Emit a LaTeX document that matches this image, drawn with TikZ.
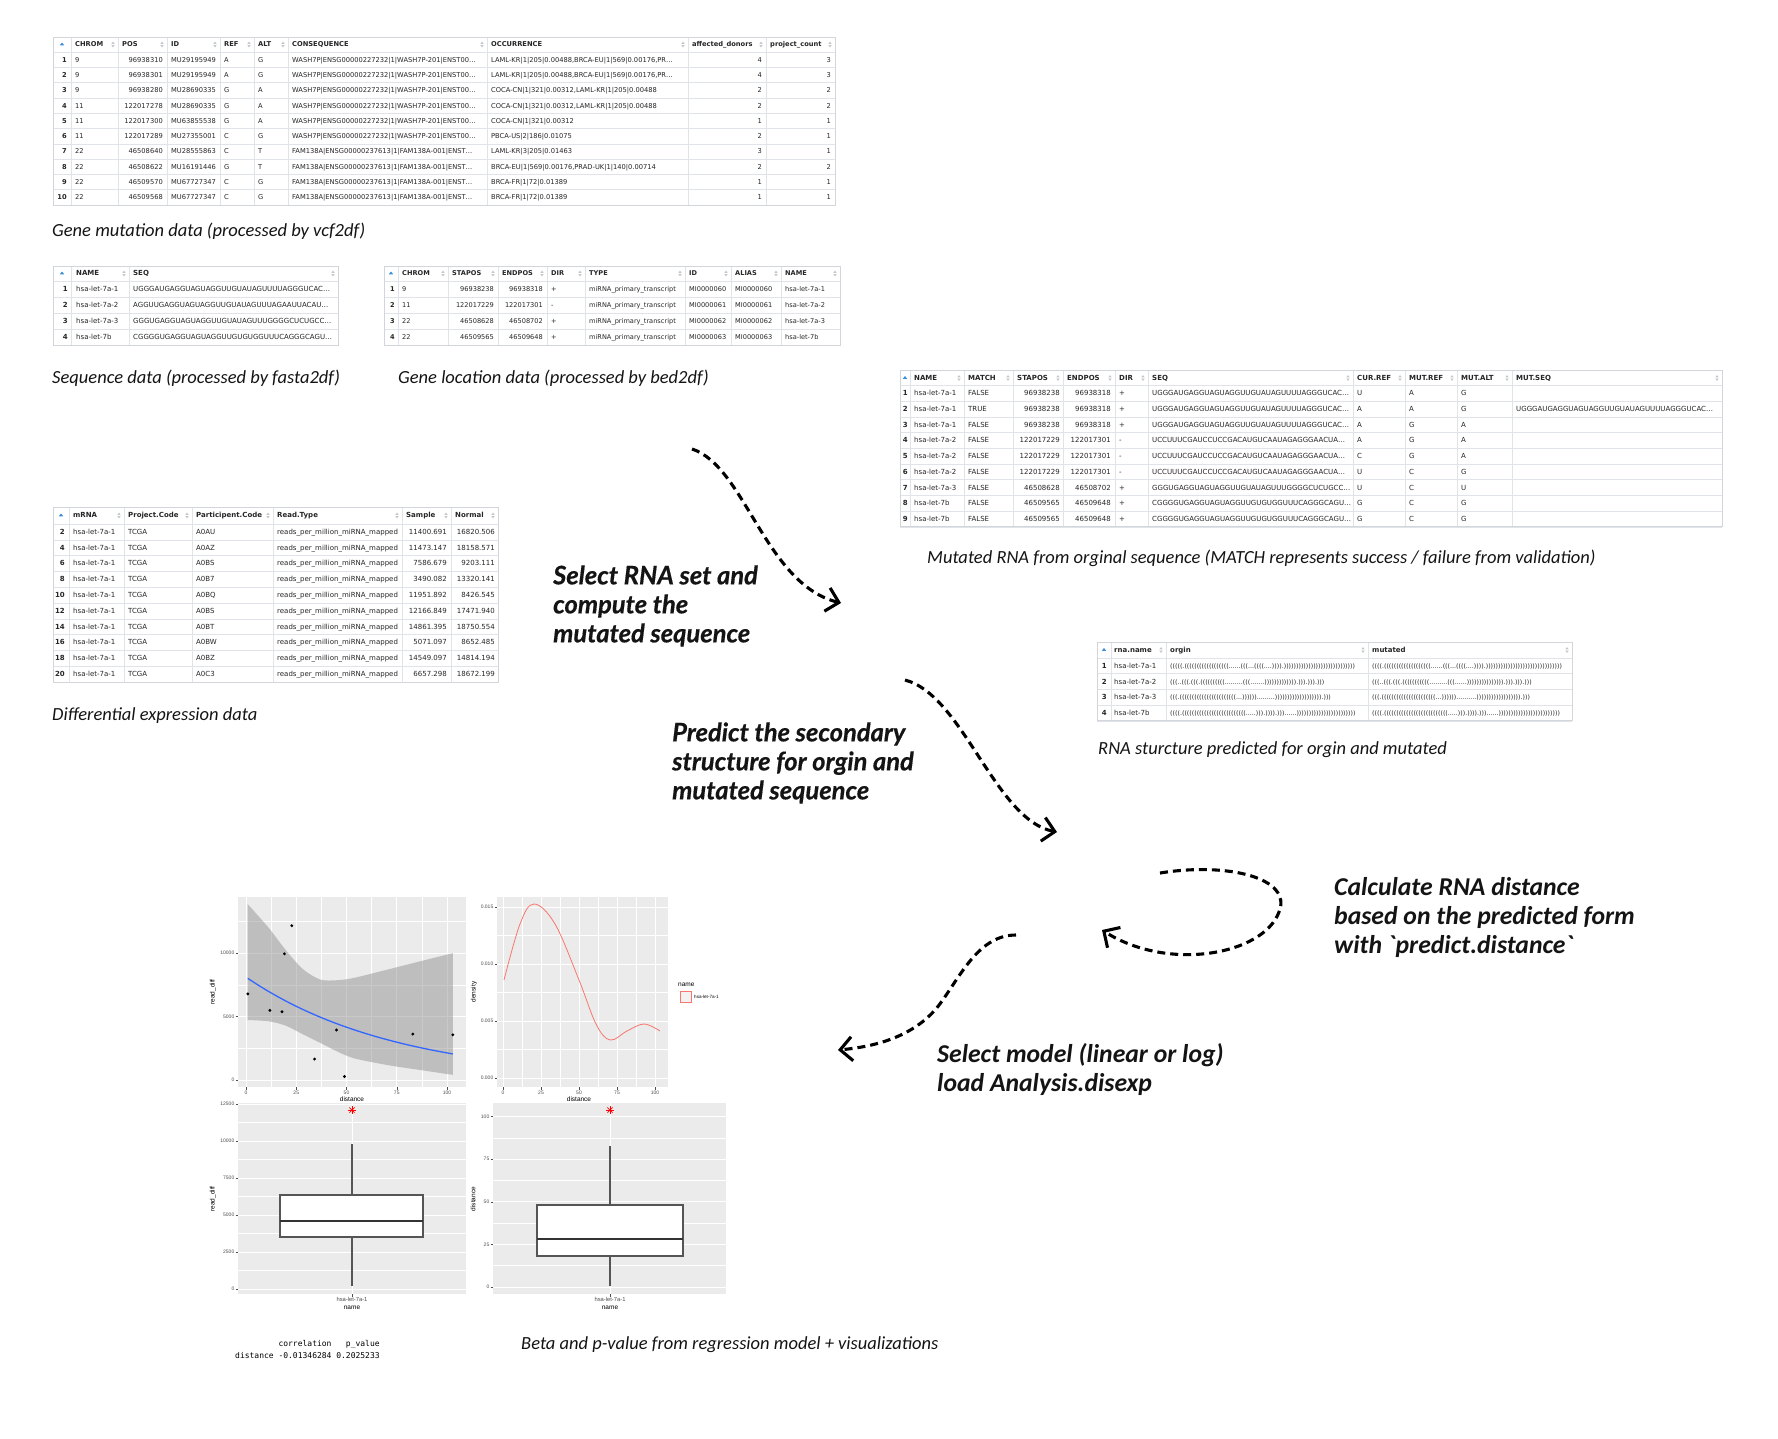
\documentclass[tikz,border=0pt]{standalone}
\usepackage{fontspec}
\setmainfont{Carlito}
\newfontfamily\tabfont{DejaVu Sans}
\newfontfamily\stepfont{Lato}[BoldItalicFeatures={FakeBold=0.5}]
\newfontfamily\calcfont{Carlito}
\newfontfamily\plotfont{Liberation Sans}
\newfontfamily\corrfont{DejaVu Sans Mono}
\usetikzlibrary{arrows.meta}
\definecolor{tabgrid}{HTML}{E0E3E7}
\definecolor{tabedge}{HTML}{D2D6DA}
\definecolor{tabtxt}{HTML}{262626}
\definecolor{sortgrey}{HTML}{C2C6CB}
\definecolor{sortblue}{HTML}{3D8FDB}
\definecolor{captxt}{HTML}{141414}
\definecolor{panelbg}{HTML}{EBEBEB}
\definecolor{ggred}{HTML}{F8766D}
\definecolor{ggblue}{HTML}{3366FF}
\definecolor{ticktxt}{HTML}{4D4D4D}
\definecolor{boxgrey}{HTML}{555555}
\def\tabsize{\fontsize{7}{8}\selectfont}
\newcommand\myWc{WASH7P|ENSG00000227232|1|WASH7P-201|ENST00…}
\newcommand\myFc{FAM138A|ENSG00000237613|1|FAM138A-001|ENST…}
\newcommand\seqA{UGGGAUGAGGUAGUAGGUUGUAUAGUUUUAGGGUCAC…}
\newcommand\seqB{UCCUUUCGAUCCUCCGACAUGUCAAUAGAGGGAACUA…}
\newcommand\seqC{GGGUGAGGUAGUAGGUUGUAUAGUUUGGGGCUCUGCC…}
\newcommand\seqD{CGGGGUGAGGUAGUAGGUUGUGUGGUUUCAGGGCAGU…}
\newcommand\seqE{AGGUUGAGGUAGUAGGUUGUAUAGUUUAGAAUUACAU…}
\tikzset{
  cell/.style={inner sep=0pt, font=\tabfont\tabsize, text=tabtxt},
  rcell/.style={inner sep=0pt, font=\tabfont\bfseries\tabsize, text=tabtxt},
  hcell/.style={inner sep=0pt, font=\tabfont\bfseries\tabsize, text=tabtxt},
  strc/.style={inner sep=0pt, font=\tabfont\fontsize{6.3}{7}\selectfont, text=tabtxt},
  tabline/.style={draw=tabgrid, line width=0.6pt},
  tabframe/.style={draw=tabedge, line width=0.8pt},
  caption/.style={inner sep=0pt, anchor=west, font=\calcfont\itshape\fontsize{18.5}{22}\selectfont, text=captxt},
  steptext/.style={inner sep=0pt, anchor=west, align=left, font=\stepfont\bfseries\itshape\fontsize{25.5}{29}\selectfont, text=captxt},
  calctext/.style={inner sep=0pt, anchor=west, align=left, font=\calcfont\bfseries\itshape\fontsize{25.7}{29}\selectfont, text=captxt},
  flow/.style={line width=3.1pt, dash pattern=on 8pt off 5pt, -{Straight Barb[length=12pt,width=24pt]}},
  majg/.style={draw=white, line width=0.9pt},
  ming/.style={draw=white, line width=0.45pt},
  tickm/.style={draw=ticktxt, line width=0.5pt},
  ticklab/.style={inner sep=0pt, font=\plotfont\fontsize{5}{6}\selectfont, text=ticktxt},
  cattick/.style={inner sep=0pt, font=\plotfont\fontsize{5.8}{6}\selectfont, text=ticktxt},
  axtitle/.style={inner sep=0pt, font=\plotfont\fontsize{6.5}{7}\selectfont, text=black},
  legtxt/.style={inner sep=0pt, font=\plotfont\fontsize{4.6}{5}\selectfont, text=black},
  boxline/.style={draw=boxgrey, line width=1.1pt},
  medline/.style={draw=black!80, line width=1.6pt},
  corr/.style={inner sep=0pt, anchor=west, align=left, font=\corrfont\fontsize{8}{12}\selectfont, text=black},
}
% table grid: left, right, inner columns, top, header bottom, row height, rows
\newcommand\tgrid[7]{%
  \pgfmathsetmacro\tbot{#5+#6*#7}%
  \fill[white] (#1,#4) rectangle (#2,\tbot);
  \foreach \rowi in {0,...,#7}{\draw[tabline] (#1,{#5+\rowi*#6}) -- (#2,{#5+\rowi*#6});}
  \foreach \colx in {#3}{\draw[tabline] (\colx,#4) -- (\colx,\tbot);}
  \draw[tabframe] (#1,#4) rectangle (#2,\tbot);
}
\newcommand\sorticons[3]{%
  \foreach \colx in {#1}{%
    \fill[sortgrey] (\colx-6.6,#2-0.7) -- (\colx-5,#2-2.9) -- (\colx-3.4,#2-0.7) -- cycle;
    \fill[sortgrey] (\colx-6.6,#2+0.7) -- (\colx-5,#2+2.9) -- (\colx-3.4,#2+0.7) -- cycle;
  }%
  \fill[sortblue] (#3-2.2,#2+0.8) -- (#3,#2-2.0) -- (#3+2.2,#2+0.8) -- cycle;
}
\newcommand\hrow[3]{%
  \foreach \v [count=\i from 0] in {#3}{%
    \pgfmathsetmacro\xx{#1[\i]}%
    \node[hcell,anchor=base west] at (\xx,#2+2.4) {\v};
  }}
\newcommand\trow[4]{%
  \foreach \v [count=\i from 0] in {#4}{%
    \pgfmathsetmacro\xx{#1[\i]}%
    \pgfmathtruncatemacro\alg{#2[\i]}%
    \ifnum\i=0 \tikzset{cur/.style={rcell}}\else\tikzset{cur/.style={cell}}\fi
    \ifnum\alg=1
      \node[cur,anchor=base east] at (\xx,#3+2.4) {\v};
    \else
      \node[cur,anchor=base west] at (\xx,#3+2.4) {\v};
    \fi
  }}
\newcommand\astk[2]{%
  \begin{scope}[shift={(#1,#2)}]
    \foreach \ang in {0,45,90,135}{\draw[red, line width=0.7pt] (\ang:3.6pt) -- (\ang+180:3.6pt);}
  \end{scope}}
\begin{document}
\begin{tikzpicture}[x=1pt,y=-1pt]
\useasboundingbox (0,0) rectangle (1778,1438);
\fill[white] (0,0) rectangle (1778,1438);

% ---------------- Table 1: gene mutation
\def\tabsize{\fontsize{6.7}{8}\selectfont}
\tgrid{53}{835}{71,118,167,220,254,288,487,688,766}{37}{52}{15.3}{10}
\sorticons{118,167,220,254,288,487,688,766,835}{44.5}{62}
\hrow{{75,122,171,224,258,292,491,692,770}}{44.5}{CHROM,POS,ID,REF,ALT,CONSEQUENCE,OCCURRENCE,affected\_donors,project\_count}
\def\Ax{{67,75,163,171,224,258,292,491,762,831}}
\def\Aa{{1,0,1,0,0,0,0,0,1,1}}
\trow{\Ax}{\Aa}{59.7}{1,9,96938310,MU29195949,A,G,\myWc,{LAML-KR|1|205|0.00488,BRCA-EU|1|569|0.00176,PR…},4,3}
\trow{\Ax}{\Aa}{75.0}{2,9,96938301,MU29195949,A,G,\myWc,{LAML-KR|1|205|0.00488,BRCA-EU|1|569|0.00176,PR…},4,3}
\trow{\Ax}{\Aa}{90.3}{3,9,96938280,MU28690335,G,A,\myWc,{COCA-CN|1|321|0.00312,LAML-KR|1|205|0.00488},2,2}
\trow{\Ax}{\Aa}{105.6}{4,11,122017278,MU28690335,G,A,\myWc,{COCA-CN|1|321|0.00312,LAML-KR|1|205|0.00488},2,2}
\trow{\Ax}{\Aa}{120.9}{5,11,122017300,MU63855538,G,A,\myWc,COCA-CN|1|321|0.00312,1,1}
\trow{\Ax}{\Aa}{136.2}{6,11,122017289,MU27355001,C,G,\myWc,PBCA-US|2|186|0.01075,2,1}
\trow{\Ax}{\Aa}{151.5}{7,22,46508640,MU28555863,C,T,\myFc,LAML-KR|3|205|0.01463,3,1}
\trow{\Ax}{\Aa}{166.8}{8,22,46508622,MU16191446,G,T,\myFc,{BRCA-EU|1|569|0.00176,PRAD-UK|1|140|0.00714},2,2}
\trow{\Ax}{\Aa}{182.1}{9,22,46509570,MU67727347,C,G,\myFc,BRCA-FR|1|72|0.01389,1,1}
\trow{\Ax}{\Aa}{197.4}{10,22,46509568,MU67727347,C,G,\myFc,BRCA-FR|1|72|0.01389,1,1}
\node[caption] (cap1) at (52,231) {Gene mutation data (processed by vcf2df)};

% ---------------- Table 2: sequences
\def\tabsize{\fontsize{7}{8}\selectfont}
\tgrid{53}{338}{71,129}{266}{281}{16}{4}
\sorticons{129,338}{273.5}{62}
\hrow{{76,133}}{273.5}{NAME,SEQ}
\def\Bx{{68,76,133}}\def\Ba{{1,0,0}}
\trow{\Bx}{\Ba}{289}{1,hsa-let-7a-1,\seqA}
\trow{\Bx}{\Ba}{305}{2,hsa-let-7a-2,\seqE}
\trow{\Bx}{\Ba}{321}{3,hsa-let-7a-3,\seqC}
\trow{\Bx}{\Ba}{337}{4,hsa-let-7b,\seqD}
\node[caption] (cap2) at (52,378) {Sequence data (processed by fasta2df)};

% ---------------- Table 3: locations
\def\tabsize{\fontsize{6.6}{8}\selectfont}
\tgrid{384}{840}{398,448,498,547,585,685,731,781}{266}{281}{16}{4}
\sorticons{448,498,547,585,685,731,781,840}{273.5}{391}
\hrow{{402,452,502,551,589,689,735,785}}{273.5}{CHROM,STAPOS,ENDPOS,DIR,TYPE,ID,ALIAS,NAME}
\def\Cx{{395,402,494,543,551,589,689,735,785}}\def\Ca{{1,0,1,1,0,0,0,0,0}}
\trow{\Cx}{\Ca}{289}{1,9,96938238,96938318,+,miRNA\_primary\_transcript,MI0000060,MI0000060,hsa-let-7a-1}
\trow{\Cx}{\Ca}{305}{2,11,122017229,122017301,-,miRNA\_primary\_transcript,MI0000061,MI0000061,hsa-let-7a-2}
\trow{\Cx}{\Ca}{321}{3,22,46508628,46508702,+,miRNA\_primary\_transcript,MI0000062,MI0000062,hsa-let-7a-3}
\trow{\Cx}{\Ca}{337}{4,22,46509565,46509648,+,miRNA\_primary\_transcript,MI0000063,MI0000063,hsa-let-7b}
\node[caption] (cap3) at (398,378) {Gene location data (processed by bed2df)};

% ---------------- Table 4: mutated RNA
\def\tabsize{\fontsize{7}{8}\selectfont}
\tgrid{900}{1722}{910,964,1013,1063,1115,1148,1353,1405,1457,1512}{370}{385.5}{15.7}{9}
\sorticons{964,1013,1063,1115,1148,1353,1405,1457,1512,1722}{378}{905}
\hrow{{914,968,1017,1067,1119,1152,1357,1409,1461,1516}}{378}{NAME,MATCH,STAPOS,ENDPOS,DIR,SEQ,CUR.REF,MUT.REF,MUT.ALT,MUT.SEQ}
\def\Dx{{908,914,968,1060,1111,1119,1152,1357,1409,1461,1516}}\def\Da{{1,0,0,1,1,0,0,0,0,0,0}}
\trow{\Dx}{\Da}{393.4}{1,hsa-let-7a-1,FALSE,96938238,96938318,+,\seqA,U,A,G}
\trow{\Dx}{\Da}{409.1}{2,hsa-let-7a-1,TRUE,96938238,96938318,+,\seqA,A,A,G,\seqA}
\trow{\Dx}{\Da}{424.8}{3,hsa-let-7a-1,FALSE,96938238,96938318,+,\seqA,A,G,A}
\trow{\Dx}{\Da}{440.5}{4,hsa-let-7a-2,FALSE,122017229,122017301,-,\seqB,A,G,A}
\trow{\Dx}{\Da}{456.2}{5,hsa-let-7a-2,FALSE,122017229,122017301,-,\seqB,C,G,A}
\trow{\Dx}{\Da}{471.9}{6,hsa-let-7a-2,FALSE,122017229,122017301,-,\seqB,U,C,G}
\trow{\Dx}{\Da}{487.6}{7,hsa-let-7a-3,FALSE,46508628,46508702,+,\seqC,U,C,U}
\trow{\Dx}{\Da}{503.3}{8,hsa-let-7b,FALSE,46509565,46509648,+,\seqD,G,C,G}
\trow{\Dx}{\Da}{519.0}{9,hsa-let-7b,FALSE,46509565,46509648,+,\seqD,G,C,G}
\node[caption] (cap5) at (927,558) {Mutated RNA from orginal sequence (MATCH represents success / failure from validation)};

% ---------------- Table 5: differential expression
\def\tabsize{\fontsize{7}{8}\selectfont}
\tgrid{53}{498}{69,124,192,273,402,451}{507}{524}{15.8}{10}
\sorticons{124,192,273,402,451,498}{515.5}{61}
\hrow{{73,128,196,277,406,455}}{515.5}{mRNA,Project.Code,Participent.Code,Read.Type,Sample,Normal}
\def\Ex{{65,73,128,196,277,447,495}}\def\Ea{{1,0,0,0,0,1,1}}
\trow{\Ex}{\Ea}{531.9}{2,hsa-let-7a-1,TCGA,A0AU,reads\_per\_million\_miRNA\_mapped,11400.691,16820.506}
\trow{\Ex}{\Ea}{547.7}{4,hsa-let-7a-1,TCGA,A0AZ,reads\_per\_million\_miRNA\_mapped,11473.147,18158.571}
\trow{\Ex}{\Ea}{563.5}{6,hsa-let-7a-1,TCGA,A0BS,reads\_per\_million\_miRNA\_mapped,7586.679,9203.111}
\trow{\Ex}{\Ea}{579.3}{8,hsa-let-7a-1,TCGA,A0B7,reads\_per\_million\_miRNA\_mapped,3490.082,13320.141}
\trow{\Ex}{\Ea}{595.1}{10,hsa-let-7a-1,TCGA,A0BQ,reads\_per\_million\_miRNA\_mapped,11951.892,8426.545}
\trow{\Ex}{\Ea}{610.9}{12,hsa-let-7a-1,TCGA,A0BS,reads\_per\_million\_miRNA\_mapped,12166.849,17471.940}
\trow{\Ex}{\Ea}{626.7}{14,hsa-let-7a-1,TCGA,A0BT,reads\_per\_million\_miRNA\_mapped,14861.395,18750.554}
\trow{\Ex}{\Ea}{642.5}{16,hsa-let-7a-1,TCGA,A0BW,reads\_per\_million\_miRNA\_mapped,5071.097,8652.485}
\trow{\Ex}{\Ea}{658.3}{18,hsa-let-7a-1,TCGA,A0BZ,reads\_per\_million\_miRNA\_mapped,14549.097,14814.194}
\trow{\Ex}{\Ea}{674.1}{20,hsa-let-7a-1,TCGA,A0C3,reads\_per\_million\_miRNA\_mapped,6657.298,18672.199}
\node[caption] (cap4) at (52,716) {Differential expression data};

% ---------------- Table 6: structures
\def\tabsize{\fontsize{7}{8}\selectfont}
\tgrid{1097}{1572}{1111,1166,1368}{642}{658}{15.7}{4}
\sorticons{1166,1368,1572}{650}{1104}
\hrow{{1114,1170,1372}}{650}{rna.name,orgin,mutated}
\node[rcell,anchor=base east] (s1n) at (1107,668.3) {1};
\node[cell,anchor=base west] (s1a) at (1114,668.3) {hsa-let-7a-1};
\node[strc,anchor=base west] (s1o) at (1170,668.3) {(((((.((((((((((((((((((......(((...((((....)))).)))))))))))))))))))))))))))))};
\node[strc,anchor=base west] (s1m) at (1372,668.3) {((((.(((((((((((((((((((......(((...((((....)))).)))))))))))))))))))))))))))))))};
\node[rcell,anchor=base east] (s2n) at (1107,684) {2};
\node[cell,anchor=base west] (s2a) at (1114,684) {hsa-let-7a-2};
\node[strc,anchor=base west] (s2o) at (1170,684) {(((..(((.(((.((((((((((.........(((.......))))))))))))).))).))).)))};
\node[strc,anchor=base west] (s2m) at (1372,684) {(((..(((.(((.(((((((((((.........(((......))))))))))))))).))).))).)))};
\node[rcell,anchor=base east] (s3n) at (1107,699.7) {3};
\node[cell,anchor=base west] (s3a) at (1114,699.7) {hsa-let-7a-3};
\node[strc,anchor=base west] (s3o) at (1170,699.7) {(((.(((((((((((((((((((((((...)))))).........))))))))))))))))))).)))};
\node[strc,anchor=base west] (s3m) at (1372,699.7) {(((.((((((((((((((((((((((...))))))..........)))))))))))))))))).)))};
\node[rcell,anchor=base east] (s4n) at (1107,715.4) {4};
\node[cell,anchor=base west] (s4a) at (1114,715.4) {hsa-let-7b};
\node[strc,anchor=base west] (s4o) at (1170,715.4) {((((.((((((((((((((((((((((((((.....))).)))).)))......))))))))))))))))))))))))};
\node[strc,anchor=base west] (s4m) at (1372,715.4) {((((.((((((((((((((((((((((((((.....))).)))).)))......)))))))))))))))))))))))))};
\node[caption] (cap6) at (1098,750) {RNA sturcture predicted for orgin and mutated};

% ---------------- Step texts
\node[steptext] (step1) at (553,606) {Select RNA set and\\compute the\\mutated sequence};
\node[steptext] (step2) at (672,763) {Predict the secondary\\structure for orgin and\\mutated sequence};
\node[calctext] (step3) at (1334,917) {Calculate RNA distance\\based on the predicted form\\with \textasciigrave predict.distance\textasciigrave};
\node[calctext] (step4) at (937,1069) {Select model (linear or log)\\load Analysis.disexp};

% ---------------- Arrows
\coordinate (a1s) at (692,449); \coordinate (a1e) at (841,603);
\coordinate (a2s) at (905,680); \coordinate (a2e) at (1057,832);
\coordinate (a3s) at (1160,873); \coordinate (a3m) at (1279,912); \coordinate (a3e) at (1102,930);
\coordinate (a4s) at (1016,935); \coordinate (a4m) at (942,1001); \coordinate (a4e) at (838,1050);
\draw[flow] (a1s) .. controls (745,466) and (765,584) .. (a1e);
\draw[flow] (a2s) .. controls (963,695) and (995,820) .. (a2e);
\draw[flow] (a3s) .. controls (1228,862) and (1293,878) .. (a3m) .. controls (1263,955) and (1168,972) .. (a3e);
\draw[flow] (a4s) .. controls (980,935) and (962,973) .. (a4m) .. controls (920,1033) and (882,1046) .. (a4e);

% ---------------- Plot A: scatter with fit
\fill[panelbg] (238,897) rectangle (466,1087);
\foreach \gx in {271.1,321.4,371.6,421.9}{\draw[ming] (\gx,897) -- (\gx,1087);}
\foreach \gy in {1048.25,984.75,921.25}{\draw[ming] (238,\gy) -- (466,\gy);}
\foreach \gx in {246,296.25,346.5,396.75,447}{\draw[majg] (\gx,897) -- (\gx,1087);}
\foreach \gy in {1080,1016.5,953}{\draw[majg] (238,\gy) -- (466,\gy);}
\begin{scope}[shift={(246pt,-1080pt)},x=2.01pt,y=12.7pt]
  \fill[gray, opacity=0.42] plot[smooth] coordinates {(0.85,13.85) (11.4,11.96) (19.9,10.21) (28.4,8.72) (37,7.91) (45.5,7.86) (54,8.05) (71,8.72) (88,9.40) (102.9,9.99)}
     -- plot[smooth] coordinates {(102.9,0.405) (88,0.756) (71,1.16) (54,1.70) (45.5,2.24) (37,2.92) (28.4,3.59) (19.9,4.27) (11.4,4.62) (0.85,4.725)} -- cycle;
  \draw[ggblue, line width=1.3pt] plot[domain=0.9:102.9,samples=50,smooth] (\x,{8.1*exp(-0.01334*\x)});
  \foreach \dx/\dy in {0.9/6.78,11.9/5.48,17.9/5.37,19.1/9.94,22.8/12.15,34.1/1.65,45/3.94,49/0.27,83/3.62,102.9/3.56}{\fill[black] (\dx,\dy) circle[radius=1.6pt];}
\end{scope}
\foreach \gy/\lab in {1080/0,1016.5/5000,953/10000}{\draw[tickm] (235.5,\gy) -- (238,\gy); \node[ticklab,anchor=east] at (234.5,\gy) {\lab};}
\foreach \gx/\lab in {246/0,296.25/25,346.5/50,396.75/75,447/100}{\draw[tickm] (\gx,1087) -- (\gx,1089.5); \node[ticklab,anchor=north] at (\gx,1090.5) {\lab};}
\node[axtitle,rotate=90] (pAy) at (213,992) {read\_diff};
\node[axtitle] (pAx) at (352,1099) {distance};

% ---------------- Plot B: density
\fill[panelbg] (497,897) rectangle (668,1087);
\foreach \gx in {522,560,598,636}{\draw[ming] (\gx,897) -- (\gx,1087);}
\foreach \gy in {1049.5,992.5,935.5}{\draw[ming] (497,\gy) -- (668,\gy);}
\foreach \gx in {503,541,579,617,655}{\draw[majg] (\gx,897) -- (\gx,1087);}
\foreach \gy in {1078,1021,964,907}{\draw[majg] (497,\gy) -- (668,\gy);}
\draw[ggred, line width=0.8pt] plot[smooth, tension=0.6] coordinates {(504,980) (520,924) (534,904) (555,924) (579,980) (596,1024) (610,1040) (627,1031) (644,1024) (660,1031)};
\foreach \gy/\lab in {1078/0.000,1021/0.005,964/0.010,907/0.015}{\draw[tickm] (494.5,\gy) -- (497,\gy); \node[ticklab,anchor=east] at (493.5,\gy) {\lab};}
\foreach \gx/\lab in {503/0,541/25,579/50,617/75,655/100}{\draw[tickm] (\gx,1087) -- (\gx,1089.5); \node[ticklab,anchor=north] at (\gx,1090.5) {\lab};}
\node[axtitle,rotate=90] (pBy) at (474,992) {density};
\node[axtitle] (pBx) at (579,1099) {distance};
\node[axtitle,anchor=west] (legt) at (678,985) {name};
\draw[ggred, fill=black!5, line width=0.7pt] (680,991) rectangle (691,1002);
\node[legtxt,anchor=west] (legl) at (694,996.5) {hsa-let-7a-1};

% ---------------- Plot C: boxplot read_diff
\fill[panelbg] (238,1103) rectangle (466,1294);
\foreach \gy in {1270.5,1233.5,1196.5,1159.5,1122.5}{\draw[ming] (238,\gy) -- (466,\gy);}
\foreach \gy in {1289,1252,1215,1178,1141,1104}{\draw[majg] (238,\gy) -- (466,\gy);}
\draw[majg] (352,1103) -- (352,1294);
\draw[boxline] (352,1144) -- (352,1195);
\draw[boxline] (352,1237) -- (352,1285.5);
\draw[boxline, fill=white] (280,1195) rectangle (423,1237);
\draw[medline] (280,1221) -- (423,1221);
\astk{352}{1110}
\foreach \gy/\lab in {1289/0,1252/2500,1215/5000,1178/7500,1141/10000,1104/12500}{\draw[tickm] (235.5,\gy) -- (238,\gy); \node[ticklab,anchor=east] at (234.5,\gy) {\lab};}
\draw[tickm] (352,1294) -- (352,1296.5);
\node[cattick,anchor=north] (pCt) at (352,1297.5) {hsa-let-7a-1};
\node[axtitle] (pCx) at (352,1308) {name};
\node[axtitle,rotate=90] (pCy) at (213,1199) {read\_diff};

% ---------------- Plot D: boxplot distance
\fill[panelbg] (493,1103) rectangle (726,1294);
\foreach \gy in {1265.7,1223.1,1180.4,1137.8}{\draw[ming] (493,\gy) -- (726,\gy);}
\foreach \gy in {1287,1244.4,1201.75,1159.1,1116.5}{\draw[majg] (493,\gy) -- (726,\gy);}
\draw[majg] (610,1103) -- (610,1294);
\draw[boxline] (610,1146) -- (610,1205);
\draw[boxline] (610,1256) -- (610,1285.5);
\draw[boxline, fill=white] (537,1205) rectangle (683,1256);
\draw[medline] (537,1239) -- (683,1239);
\astk{610}{1110}
\foreach \gy/\lab in {1287/0,1244.4/25,1201.75/50,1159.1/75,1116.5/100}{\draw[tickm] (490.5,\gy) -- (493,\gy); \node[ticklab,anchor=east] at (489.5,\gy) {\lab};}
\draw[tickm] (610,1294) -- (610,1296.5);
\node[cattick,anchor=north] (pDt) at (610,1297.5) {hsa-let-7a-1};
\node[axtitle] (pDx) at (610,1308) {name};
\node[axtitle,rotate=90] (pDy) at (473,1199) {distance};

% ---------------- correlation output and caption
\node[corr] (corr) at (235,1349) {~~~~~~~~~correlation~~~p\_value\\distance -0.01346284 0.2025233};
\node[caption] (cap7) at (521,1345) {Beta and p-value from regression model + visualizations};
\end{tikzpicture}
\end{document}
